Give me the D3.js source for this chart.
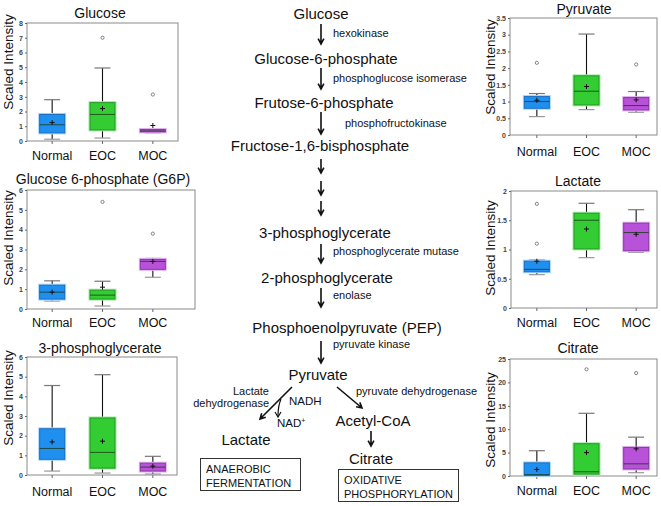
<!DOCTYPE html>
<html><head><meta charset="utf-8">
<script src="https://cdn.jsdelivr.net/npm/d3@7"></script>
<style>body{margin:0;background:#fff}svg{display:block;font-family:"Liberation Sans",Arial,sans-serif}</style>
</head><body><svg id="c" width="661" height="506"></svg>
<script>
const groups = ["Normal", "EOC", "MOC"];
// per group: [min, q1, median, q3, max, mean]
const glucoseStats = [[0.12,0.55,1.1,1.8,2.8,1.25],[0.2,0.75,1.8,2.6,4.95,2.2],[0.55,0.62,0.68,0.78,0.78,1.05]];
const glucoseOutliers = [[],[7.0],[3.15]];
const glucoseTicks = [0,1,2,3,4,5,6,7,8];

const g6pStats = [[0.4,0.5,0.85,1.2,1.42,0.85],[0.15,0.5,0.7,0.95,1.4,1.1],[1.6,2.0,2.4,2.5,2.55,2.4]];
const g6pOutliers = [[],[5.4],[3.8]];
const g6pTicks = [0,1,2,3,4,5,6];

const pgaStats = [[0.2,0.8,1.35,2.35,4.55,1.68],[0.1,0.35,1.15,2.9,5.1,1.72],[0.05,0.2,0.4,0.6,0.95,0.45]];
const pgaOutliers = [[],[],[]];
const pgaTicks = [0,1,2,3,4,5,6];

const pyruvateStats = [[0.55,0.8,1.0,1.15,1.24,1.04],[0.76,0.9,1.31,1.77,3.02,1.45],[0.68,0.75,0.88,1.12,1.3,1.05]];
const pyruvateOutliers = [[2.16],[],[2.11]];
const pyruvateTicks = [0,0.5,1,1.5,2,2.5,3,3.5];

const lactateStats = [[0.57,0.62,0.66,0.8,0.82,0.8],[0.86,1.01,1.5,1.62,1.79,1.35],[0.95,0.98,1.29,1.45,1.68,1.26]];
const lactateOutliers = [[1.1,1.78],[],[]];
const lactateTicks = [0,0.5,1,1.5,2];

const citrateStats = [[0,0.1,0.3,2.8,5.4,1.4],[0.3,0.4,0.9,6.9,13.4,5.0],[0.7,1.5,2.6,6.1,8.3,5.8]];
const citrateOutliers = [[],[22.8],[22.0]];
const citrateTicks = [0,5,10,15,20,25];

const titles = ["Glucose","Glucose 6-phosphate (G6P)","3-phosphoglycerate","Pyruvate","Lactate","Citrate"];
const yLabel = "Scaled Intensity";

// pathway text
const metabolites = ["Glucose","Glucose-6-phosphate","Frutose-6-phosphate","Fructose-1,6-bisphosphate",
  "3-phosphoglycerate","2-phosphoglycerate","Phosphoenolpyruvate (PEP)","Pyruvate","Lactate","Acetyl-CoA","Citrate"];
const enzymes = ["hexokinase","phosphoglucose isomerase","phosphofructokinase","phosphoglycerate mutase",
  "enolase","pyruvate kinase","pyruvate dehydrogenase"];
const ldhLines = ["Lactate","dehydrogenase"];
const boxTexts = [["ANAEROBIC","FERMENTATION"],["OXIDATIVE","PHOSPHORYLATION"]];

const fills = ["#2090f0","#33cc33","#b852d8"];
const strokes = ["#1a6fc0","#229a22","#8a3aa8"];
const halos = ["#a8d4fb","#a6e8a6","#e0b4ee"];

const svg = d3.select("#c");

// layout (positions only)
const panels = [
  {title:0, stats:glucoseStats, out:glucoseOutliers, ticks:glucoseTicks, frame:[27,23,178,141], band:[27,178], ylx:8, yly:62, ty:18, tx:100, xly:160},
  {title:1, stats:g6pStats, out:g6pOutliers, ticks:g6pTicks, frame:[27,190,195,309], band:[27,178], ylx:8, yly:238, ty:184, tx:103, xly:327},
  {title:2, stats:pgaStats, out:pgaOutliers, ticks:pgaTicks, frame:[27,357,177,475], band:[27,178], ylx:8, yly:398, ty:353, tx:100, xly:496},
  {title:3, stats:pyruvateStats, out:pyruvateOutliers, ticks:pyruvateTicks, frame:[510,18,657,135], band:[512,661], ylx:490, yly:67, ty:14, tx:584, xly:156},
  {title:4, stats:lactateStats, out:lactateOutliers, ticks:lactateTicks, frame:[511,191,657,308], band:[512,661], ylx:490, yly:248, ty:186, tx:578, xly:327},
  {title:5, stats:citrateStats, out:citrateOutliers, ticks:citrateTicks, frame:[510,359,657,476], band:[512,661], ylx:490, yly:420, ty:353, tx:578, xly:495}
];

panels.forEach(p => {
  const [x0,y0,x1,y1] = p.frame;
  const ticks = p.ticks;
  const y = d3.scaleLinear().domain([0, ticks[ticks.length-1]]).range([y1, y0]);
  const x = d3.scaleBand().domain(groups).range(p.band);
  const cx = g => x(g) + x.bandwidth()/2;
  const g = svg.append("g");

  g.append("rect").attr("x",x0).attr("y",y0).attr("width",x1-x0).attr("height",y1-y0)
    .attr("fill","none").attr("stroke","#8a8a8a").attr("stroke-width",1);

  const ya = g.append("g").attr("transform",`translate(${x0},0)`)
    .call(d3.axisLeft(y).tickValues(ticks).tickSize(2).tickFormat(d => String(d)));
  ya.select(".domain").remove();
  ya.selectAll("line").attr("stroke","#666");
  ya.selectAll("text").attr("font-size",7).attr("font-weight","bold").attr("fill","#444")
    .attr("font-family","Liberation Sans, Arial, sans-serif").attr("x",-4);

  const xa = g.append("g").attr("transform",`translate(0,${y1})`)
    .call(d3.axisBottom(x).tickSize(3).tickFormat(""));
  xa.select(".domain").remove();
  xa.selectAll("line").attr("stroke","#666");

  groups.forEach((grp, i) => {
    const [mn,q1,md,q3,mx,mean] = p.stats[i];
    const c = cx(grp);
    const bw = 25, cw = 16;
    // whiskers
    g.append("line").attr("x1",c).attr("x2",c).attr("y1",y(q3)).attr("y2",y(mx)).attr("stroke","#111").attr("stroke-width",1.1);
    g.append("line").attr("x1",c).attr("x2",c).attr("y1",y(q1)).attr("y2",y(mn)).attr("stroke","#111").attr("stroke-width",1.1);
    g.append("line").attr("x1",c-cw/2).attr("x2",c+cw/2).attr("y1",y(mx)).attr("y2",y(mx)).attr("stroke","#777").attr("stroke-width",1.2);
    g.append("line").attr("x1",c-cw/2).attr("x2",c+cw/2).attr("y1",y(mn)).attr("y2",y(mn)).attr("stroke","#999").attr("stroke-width",1.2);
    // halo + box
    g.append("rect").attr("x",c-bw/2-1.5).attr("y",y(q3)-1.5).attr("width",bw+3).attr("height",Math.max(0,y(q1)-y(q3))+3)
      .attr("fill",halos[i]);
    g.append("rect").attr("x",c-bw/2).attr("y",y(q3)).attr("width",bw).attr("height",Math.max(1.5,y(q1)-y(q3)))
      .attr("fill",fills[i]).attr("stroke",strokes[i]).attr("stroke-width",1);
    g.append("line").attr("x1",c-bw/2).attr("x2",c+bw/2).attr("y1",y(md)).attr("y2",y(md)).attr("stroke","#1a3a1a").attr("stroke-opacity",0.8).attr("stroke-width",1);
    // mean +
    const my = y(mean);
    g.append("path").attr("d",`M${c-2.5},${my}H${c+2.5}M${c},${my-2.5}V${my+2.5}`).attr("stroke","#111").attr("stroke-width",1);
    // outliers
    p.out[i].forEach(v => {
      g.append("circle").attr("cx",c).attr("cy",y(v)).attr("r",1.6).attr("fill","none").attr("stroke","#777").attr("stroke-width",0.9);
    });
    g.append("text").attr("x",c).attr("y",p.xly).attr("text-anchor","middle").attr("font-size",12.5).attr("fill","#111").text(grp);
  });

  g.append("text").attr("x",p.tx).attr("y",p.ty).attr("text-anchor","middle").attr("font-size",14).attr("fill","#111").text(titles[p.title]);
  g.append("text").attr("transform",`translate(${p.ylx + 5},${p.yly}) rotate(-90)`).attr("text-anchor","middle")
    .attr("font-size",13.5).attr("fill","#111").text(yLabel);
});

// ---------- pathway ----------
const pw = svg.append("g");
function arrow(xa, ya, xb, yb) {
  const ang = Math.atan2(yb-ya, xb-xa);
  const h = 6, s = 0.5;
  const p1 = [xb - h*Math.cos(ang - s), yb - h*Math.sin(ang - s)];
  const p2 = [xb - h*Math.cos(ang + s), yb - h*Math.sin(ang + s)];
  pw.append("path").attr("d",`M${xa},${ya}L${xb},${yb}M${p1[0]},${p1[1]}L${xb},${yb}L${p2[0]},${p2[1]}`)
    .attr("fill","none").attr("stroke","#111").attr("stroke-width",1.6).attr("stroke-linejoin","miter");
}
const metPos = [[321,19],[326,64],[324,108],[320,151],[325,238],[327,283],[347,333],[318,380],[246,445],[373,426],[371,464]];
metabolites.forEach((m,i) => {
  pw.append("text").attr("x",metPos[i][0]).attr("y",metPos[i][1]).attr("text-anchor","middle")
    .attr("font-size",15).attr("fill","#111").text(m);
});
const enzPos = [[333,37],[333,82],[345,127],[333,255],[333,299],[333,348],[356,395]];
enzymes.forEach((e,i) => {
  pw.append("text").attr("x",enzPos[i][0]).attr("y",enzPos[i][1]).attr("font-size",11).attr("fill","#111").text(e);
});
const vArrows = [[321,24,44],[321,68,89],[321,112,134],[321,159,173],[321,181,195],[321,201,215],[321,244,263],[321,288,307],[321,341,363],[371,431,446]];
vArrows.forEach(a => arrow(a[0],a[1],a[0],a[2]));
arrow(292,387,260,419);
arrow(337,387,362,408);
// NADH -> NAD+ small curved arrow
pw.append("path").attr("d","M281,399 Q278,406 278,416").attr("fill","none").attr("stroke","#111").attr("stroke-width",1.2);
pw.append("path").attr("d","M275,412 L278,417 L281,412").attr("fill","none").attr("stroke","#111").attr("stroke-width",1.2);
ldhLines.forEach((t,i) => {
  pw.append("text").attr("x",269).attr("y",395 + i*12).attr("text-anchor","end").attr("font-size",11).attr("fill","#111").text(t);
});
pw.append("text").attr("x",289).attr("y",405).attr("font-size",11.5).attr("fill","#111").text("NADH");
const nad = pw.append("text").attr("x",277).attr("y",427).attr("font-size",11.5).attr("fill","#111").text("NAD");
nad.append("tspan").attr("dy",-4).attr("font-size",7).text("+");

const boxes = [[200,458,300,490,206,473],[338,469,458,501,344,484]];
boxTexts.forEach((lines,i) => {
  const b = boxes[i];
  pw.append("rect").attr("x",b[0]+0.5).attr("y",b[1]+0.5).attr("width",b[2]-b[0]).attr("height",b[3]-b[1])
    .attr("fill","none").attr("stroke","#333").attr("stroke-width",1);
  lines.forEach((t,j) => {
    pw.append("text").attr("x",b[4]).attr("y",b[5] + j*14).attr("font-size",11).attr("fill","#111").text(t);
  });
});
</script></body></html>
